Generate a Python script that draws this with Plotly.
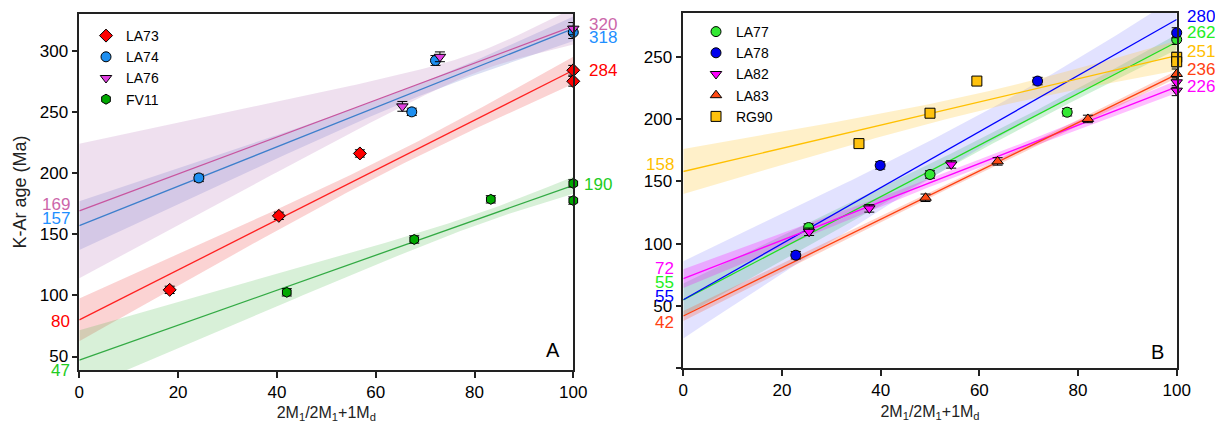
import numpy as np
import plotly.graph_objects as go

# ---------------- data: panel A ----------------
a_names = ["LA73", "LA74", "LA76", "FV11"]
la73_x = [18.3, 40.4, 56.8, 100, 100]
la73_y = [104.5, 165, 216, 284, 275]
la73_e = [3, 3, 3, 4, 4]
la74_x = [24.2, 67.3, 72.1, 100]
la74_y = [196, 250, 292, 315]
la74_e = [3, 3, 4, 5]
la76_x = [65.4, 73, 100]
la76_y = [254.5, 295, 318]
la76_e = [4, 4, 5]
fv11_x = [42, 67.8, 83.3, 100, 100]
fv11_y = [102.5, 145.7, 178.5, 191.5, 177.5]
fv11_e = [3, 3, 3, 3, 3]
a_start = [80, 157, 169, 47]      # fitted value at x = 0
a_end = [284, 318, 320, 190]      # fitted value at x = 100
# confidence band half-widths: at x=0, at x=100, minimum
a_hw0 = [17.5, 20, 55, 24.5]
a_hw100 = [11, 10, 15, 7]
a_hwmin = [6, 5, 8, 4.5]

# ---------------- data: panel B ----------------
b_names = ["LA77", "LA78", "LA82", "LA83", "RG90"]
la77_x = [25.4, 50, 77.8, 100]
la77_y = [113, 155.6, 205.6, 264]
la77_e = [3, 3, 3, 4]
la78_x = [22.8, 39.9, 71.8, 100]
la78_y = [90.8, 162.9, 230.6, 269.4]
la78_e = [3, 3, 3, 4]
la82_x = [25.5, 37.7, 54.3, 100, 100]
la82_y = [109.6, 128.4, 163.7, 229.6, 222.9]
la82_e = [3, 3, 3, 4, 4]
la83_x = [49.1, 63.7, 82, 100]
la83_y = [136.9, 166.1, 200.2, 236.3]
la83_e = [3, 3, 3, 4]
rg90_x = [35.6, 50, 59.5, 100, 100]
rg90_y = [180.4, 204.8, 230.6, 249.7, 246.1]
rg90_e = [3, 3, 3, 4, 4]
b_start = [55, 55, 72, 42, 158]
b_end = [262, 280, 226, 236, 251]
b_hw0 = [13, 31, 7.5, 4, 18]
b_hw100 = [6, 18, 5, 3, 12]
b_hwmin = [4, 13, 3, 2, 7]

# ---------------- styles ----------------
FONT = "Liberation Sans, Arial, sans-serif"
a_fill = ["#ff0000", "#1e8ff0", "#e040e0", "#00a800"]
a_line = ["#ff2020", "#3d7fcc", "#c8559f", "#33aa44"]
a_label = ["#ff0000", "#1e8fff", "#cc66aa", "#22cc22"]
a_band = ["rgba(240,80,80,0.25)", "rgba(90,110,200,0.22)",
          "rgba(190,130,190,0.25)", "rgba(60,180,60,0.2)"]
a_symbol = ["diamond", "circle", "triangle-down", "hexagon"]
a_lshift0 = [-2, 7, 6, -10]     # label pixel shifts (left side)
a_lshift1 = [0, -9, 2, 1]       # label pixel shifts (right side)
a_dx1 = [14, 14, 14, 9]

b_fill = ["#33e833", "#0000ee", "#ff00ff", "#ff4a14", "#ffc20e"]
b_line = ["#22dd22", "#0000ff", "#ff00ff", "#ff4010", "#ffc000"]
b_label = ["#22ee22", "#0000ff", "#ff00ff", "#ff4010", "#ffc000"]
b_band = ["rgba(60,200,90,0.25)", "rgba(110,110,255,0.2)",
          "rgba(255,0,255,0.25)", "rgba(255,80,40,0.25)", "rgba(255,200,60,0.28)"]
b_symbol = ["circle", "circle", "triangle-down", "triangle-up", "square"]
b_lshift0 = [17, 3, 10, -7, 7]
b_lshift1 = [9, 3, 0, 5, 4.5]
b_dx1 = [8, 8, 8, 8, 8]

a_pts = [(la73_x, la73_y, la73_e), (la74_x, la74_y, la74_e),
         (la76_x, la76_y, la76_e), (fv11_x, fv11_y, fv11_e)]
b_pts = [(la77_x, la77_y, la77_e), (la78_x, la78_y, la78_e),
         (la82_x, la82_y, la82_e), (la83_x, la83_y, la83_e),
         (rg90_x, rg90_y, rg90_e)]


def band(y0, y1, h0, h100, hmin):
    xs = np.linspace(0, 100, 101)
    r = np.sqrt((h0 ** 2 - hmin ** 2) / (h100 ** 2 - hmin ** 2))
    m = 100 * r / (1 + r)
    B = (h0 ** 2 - hmin ** 2) / m ** 2
    hw = np.sqrt(hmin ** 2 + B * (xs - m) ** 2)
    yc = y0 + (y1 - y0) * xs / 100
    return xs, yc + hw, yc - hw


fig = go.Figure()


def add_panel(xa, ya, legend, names, pts, start, end, hw0, hw100, hwmin,
              fill, line, band_c, symbol):
    for i in range(len(names)):
        xs, up, lo = band(start[i], end[i], hw0[i], hw100[i], hwmin[i])
        fig.add_trace(go.Scatter(
            x=np.concatenate([xs, xs[::-1]]), y=np.concatenate([up, lo[::-1]]),
            fill="toself", fillcolor=band_c[i], line=dict(width=0),
            mode="lines", hoverinfo="skip", showlegend=False,
            xaxis=xa, yaxis=ya))
    for i in range(len(names)):
        fig.add_trace(go.Scatter(
            x=[0, 100], y=[start[i], end[i]], mode="lines",
            line=dict(color=line[i], width=1.3), showlegend=False,
            xaxis=xa, yaxis=ya))
    for i in range(len(names)):
        x, y, e = pts[i]
        fig.add_trace(go.Scatter(
            x=x, y=y, mode="markers", name=names[i], legend=legend,
            marker=dict(symbol=symbol[i], size=10, color=fill[i],
                        line=dict(color="black", width=1)),
            error_y=dict(type="data", array=e, color="black",
                         thickness=1, width=5),
            cliponaxis=False, xaxis=xa, yaxis=ya))


add_panel("x", "y", "legend", a_names, a_pts, a_start, a_end, a_hw0, a_hw100,
          a_hwmin, a_fill, a_line, a_band, a_symbol)
add_panel("x2", "y2", "legend2", b_names, b_pts, b_start, b_end, b_hw0,
          b_hw100, b_hwmin, b_fill, b_line, b_band, b_symbol)

ann = []
for names, start, end, lab, s0, s1, xr, yr, dx1 in [
        (a_names, a_start, a_end, a_label, a_lshift0, a_lshift1, "x", "y", a_dx1),
        (b_names, b_start, b_end, b_label, b_lshift0, b_lshift1, "x2", "y2", b_dx1)]:
    for i in range(len(names)):
        ann.append(dict(x=0, y=start[i], xref=xr, yref=yr, text=str(start[i]),
                        showarrow=False, xanchor="right", xshift=-7,
                        yshift=s0[i], font=dict(size=17, color=lab[i], family=FONT)))
        ann.append(dict(x=100, y=end[i], xref=xr, yref=yr, text=str(end[i]),
                        showarrow=False, xanchor="left", xshift=dx1[i],
                        yshift=s1[i], font=dict(size=17, color=lab[i], family=FONT)))
ann.append(dict(x=95.9, y=55.5, xref="x", yref="y", text="A", showarrow=False,
                font=dict(size=20, color="black", family=FONT)))
ann.append(dict(x=96.1, y=13.4, xref="x2", yref="y2", text="B", showarrow=False,
                font=dict(size=20, color="black", family=FONT)))

axis_common = dict(showline=True, mirror=True, linecolor="#222", linewidth=1.5,
                   ticks="outside", ticklen=6, tickwidth=1.5, tickcolor="#222",
                   showgrid=False, zeroline=False,
                   tickfont=dict(size=17, color="black", family=FONT))
xtitle = dict(text="2M<sub>1</sub>/2M<sub>1</sub>+1M<sub>d</sub>",
              font=dict(size=16, color="#222", family=FONT), standoff=6)

fig.update_layout(
    width=1215, height=423, margin=dict(l=0, r=0, t=0, b=0),
    template="none", paper_bgcolor="white", plot_bgcolor="white",
    font=dict(family=FONT, color="black"),
    showlegend=True,
    xaxis=dict(domain=[0.06527, 0.47185], range=[0, 100], tickvals=[0, 20, 40, 60, 80, 100],
               title=xtitle, **axis_common),
    yaxis=dict(domain=[0.1253, 0.9669], range=[39, 330], tickvals=[50, 100, 150, 200, 250, 300],
               title=dict(text="K-Ar age (Ma)", font=dict(size=18, color="#222", family=FONT),
                          standoff=8), **axis_common),
    xaxis2=dict(domain=[0.56239, 0.96848], range=[0, 100], tickvals=[0, 20, 40, 60, 80, 100],
                anchor="y2", title=xtitle, **axis_common),
    yaxis2=dict(domain=[0.1293, 0.97], range=[0, 285.5], anchor="x2",
                tickvals=[0, 50, 100, 150, 200, 250],
                ticktext=[" ", "50", "100", "150", "200", "250"], **axis_common),
    legend=dict(x=86 / 1215, y=1 - 20 / 423, xanchor="left", yanchor="top",
                bgcolor="rgba(0,0,0,0)", font=dict(size=14, family=FONT, color="black")),
    legend2=dict(x=696 / 1215, y=1 - 16 / 423, xanchor="left", yanchor="top",
                 bgcolor="rgba(0,0,0,0)", font=dict(size=14, family=FONT, color="black")),
    annotations=ann,
)

fig.write_html("out.html",
               config={"displayModeBar": False},
               post_script="document.body.style.margin='0';"
                           "document.body.style.overflow='hidden';")
